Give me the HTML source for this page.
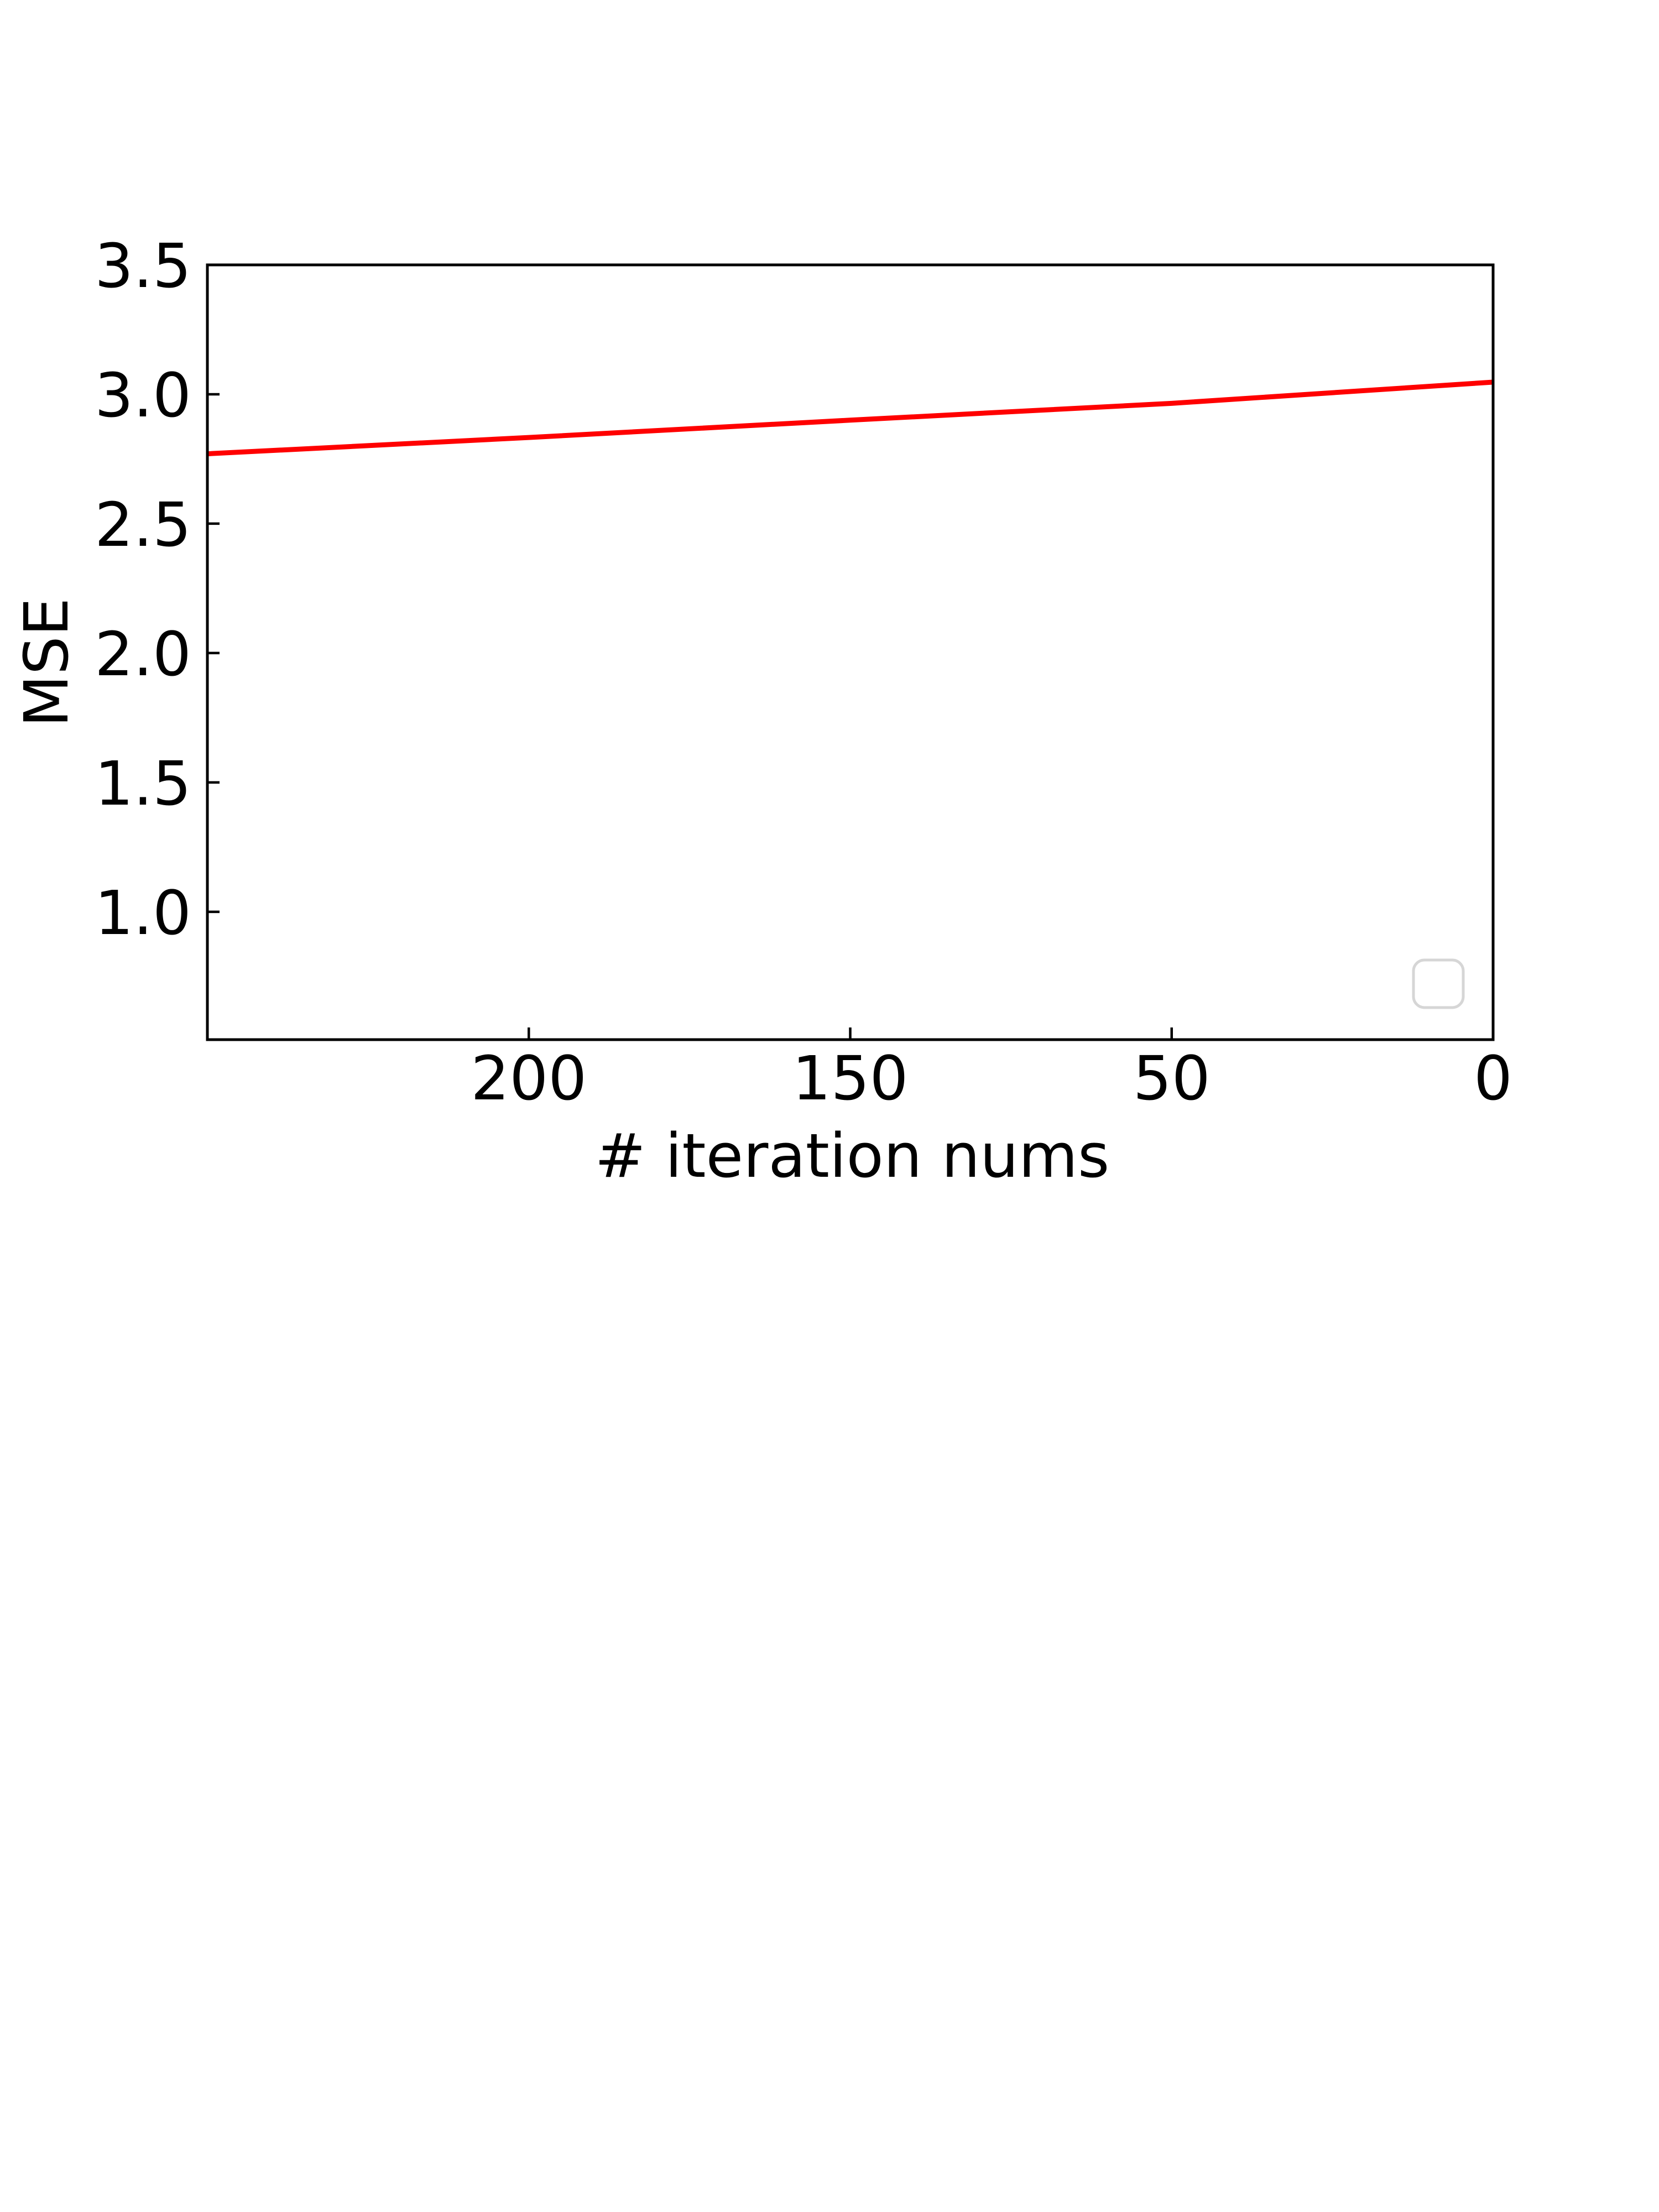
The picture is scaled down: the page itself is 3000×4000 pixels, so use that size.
<!DOCTYPE html>
<html><head><meta charset="utf-8"><style>
html,body{margin:0;padding:0;background:#fff;}
svg{display:block;}
text{font-family:"DejaVu Sans","Liberation Sans",sans-serif;fill:#000;}
</style></head><body>
<svg id="chart" width="3000" height="4000" viewBox="0 0 3000 4000" xmlns="http://www.w3.org/2000/svg">
<rect width="3000" height="4000" fill="#fff"/>
<g id="plot"></g>
</svg>
<script>
const categories = ["250", "200", "150", "50", "0"];
const tickLabels = ["", "200", "150", "50", "0"];
const mseValues = [2.77, 2.833, 2.90, 2.965, 3.047];
const yTicks = [1.0, 1.5, 2.0, 2.5, 3.0, 3.5];

const L=375, R=2700, T=479, B=1880;
const yMin=0.506, yMax=3.5;
const NS="http://www.w3.org/2000/svg";
const g=document.getElementById('plot');
function xS(i){return L+(R-L)*i/(categories.length-1);}
function yS(v){return B-(v-yMin)/(yMax-yMin)*(B-T);}
function mk(tag,attrs){const e=document.createElementNS(NS,tag);for(const k in attrs)e.setAttribute(k,attrs[k]);g.appendChild(e);return e;}

const pts=mseValues.map((v,i)=>xS(i)+','+yS(v)).join(' ');
const line=mk('polyline',{points:pts,fill:'none',stroke:'#ff0000','stroke-width':9,'stroke-linejoin':'round'});



yTicks.forEach(v=>{
  const y=yS(v);
  const t=mk('line',{x1:L,x2:L+22,y1:y,y2:y,stroke:'#000','stroke-width':4.5});
  
  
  const lb=mk('text',{x:346,y:y+40,'font-size':110,'text-anchor':'end'});
  lb.textContent=v.toFixed(1);
  
  
});
tickLabels.forEach((s,i)=>{
  if(!s)return;
  const x=xS(i);
  const t=mk('line',{x1:x,x2:x,y1:B,y2:B-22,stroke:'#000','stroke-width':4.5});
  
  
  const lb=mk('text',{x:x,y:1988,'font-size':110,'text-anchor':'middle'});
  lb.textContent=s;
  
  
});
const fr=mk('rect',{x:L,y:T,width:R-L,height:B-T,fill:'none',stroke:'#000','stroke-width':5});


const lg=mk('rect',{x:2556,y:1736,width:90,height:86,rx:20,fill:'#fff',stroke:'#d6d6d6','stroke-width':5});


const xt=mk('text',{x:1541,y:2128,'font-size':110,'text-anchor':'middle'});
xt.textContent='# iteration nums';


const yt=mk('text',{x:0,y:0,'font-size':110,'text-anchor':'middle',transform:'translate(122,1198) rotate(-90)'});
yt.textContent='MSE';


</script>
</body></html>
